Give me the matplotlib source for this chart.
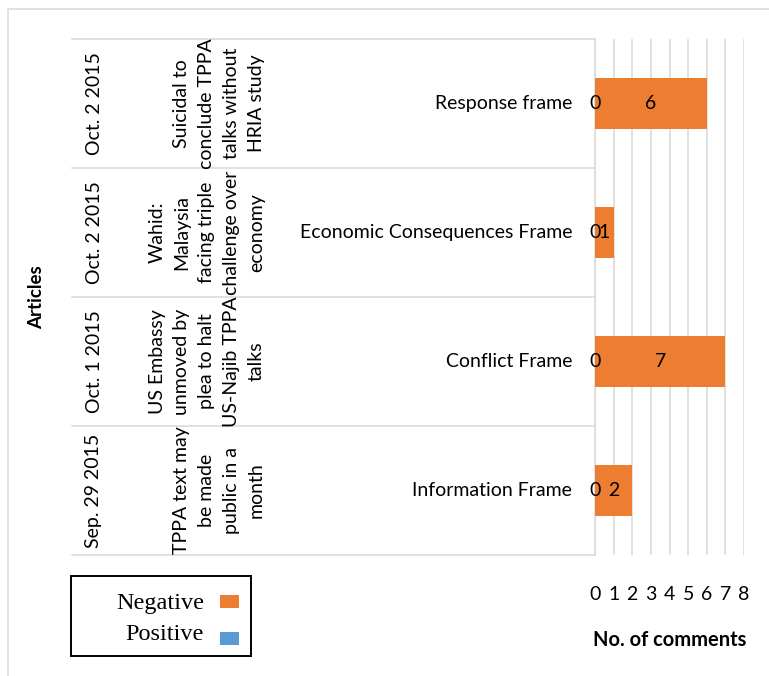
import matplotlib
matplotlib.use("Agg")
import matplotlib.pyplot as plt
from matplotlib import transforms
from matplotlib.patches import Rectangle

# categories listed top to bottom
dates = ["Oct. 2 2015", "Oct. 2 2015", "Oct. 1 2015", "Sep. 29 2015"]
titles = [
    "Suicidal to\nconclude TPPA\ntalks without\nHRIA study",
    "Wahid:\nMalaysia\nfacing triple\nchallenge over\neconomy",
    "US Embassy\nunmoved by\nplea to halt\nUS-Najib TPPA\ntalks",
    "TPPA text may\nbe made\npublic in a\nmonth",
]
frames = ["Response frame", "Economic Consequences Frame", "Conflict Frame", "Information Frame"]
negative = [6, 1, 7, 2]
positive = [0, 0, 0, 0]
x_ticks = [0, 1, 2, 3, 4, 5, 6, 7, 8]

ORANGE = "#ED7D31"
BLUE = "#5B9BD5"
GRID = "#D9D9D9"
SANS = "Lato"
FS = 14

W, H = 769, 676
fig = plt.figure(figsize=(W / 100, H / 100), dpi=100)


def fx(px):
    return px / W


def fy(py):
    return 1 - py / H


# plot area spans 0..8 on x and the four category rows on y
ax = fig.add_axes([fx(595), fy(555), fx(744) - fx(595), fy(39) - fy(555)])
ypos = list(range(len(frames)))

neg = ax.barh(ypos, negative, height=0.395, color=ORANGE, zorder=3)
pos = ax.barh(ypos, positive, height=0.395, color=BLUE, zorder=3)
ax.bar_label(neg, label_type="center", fontsize=FS, family=SANS, zorder=5)
ax.bar_label(pos, label_type="center", fontsize=FS, family=SANS, zorder=5)

ax.set_xlim(0, 8)
ax.set_ylim(len(frames) - 0.5, -0.5)
ax.set_xticks(x_ticks)
ax.set_yticks([])
ax.grid(axis="x", color=GRID, linewidth=1.1, zorder=0)
for side in ["top", "right", "bottom"]:
    ax.spines[side].set_visible(False)
ax.spines["left"].set_color(GRID)
ax.spines["left"].set_linewidth(1.1)
ax.tick_params(axis="x", length=0, pad=22.5, labelsize=FS)
for lab in ax.get_xticklabels():
    lab.set_family(SANS)
ax.set_xlabel("No. of comments", fontsize=14.5, fontweight="bold", family=SANS, labelpad=19)

# multi-level category labels to the left of the axis
tr = transforms.blended_transform_factory(fig.transFigure, ax.transData)
for b in [i - 0.5 for i in range(len(frames) + 1)]:
    ax.plot([fx(72), fx(595)], [b, b], transform=tr, color=GRID, lw=1.1, clip_on=False)

for i in ypos:
    ax.text(fx(572), i, frames[i], transform=tr, ha="right", va="center",
            fontsize=FS, family=SANS)
    ax.text(fx(265), i, titles[i], transform=tr, ha="right", va="center",
            rotation=90, multialignment="center", linespacing=1.56,
            fontsize=FS, family=SANS)
    ax.text(fx(94), i, dates[i], transform=tr, ha="center", va="center",
            rotation=90, fontsize=FS, family=SANS)

fig.text(fx(37), fy(297), "Articles", rotation=90, ha="center", va="center",
         fontsize=13.5, fontweight="bold", family=SANS)

# chart border
fig.patches.append(Rectangle((fx(8), -0.1), 1.2, fy(9) + 0.1, transform=fig.transFigure,
                             fill=False, edgecolor=GRID, lw=1.1))

# legend box
fig.patches.append(Rectangle((fx(71), fy(656)), fx(251) - fx(71), fy(576) - fy(656),
                             transform=fig.transFigure, fill=False, edgecolor="black", lw=1.4))
for label, color, yc, ys in [("Negative", ORANGE, 603, 601.5), ("Positive", BLUE, 634, 638.5)]:
    fig.text(fx(204), fy(yc), label, ha="right", va="center", fontsize=17.5,
             family="Liberation Serif")
    fig.patches.append(Rectangle((fx(220), fy(ys + 6.5)), fx(239) - fx(220), 13 / H,
                                 transform=fig.transFigure, color=color, lw=0))

fig.savefig("out.png", dpi=100)
